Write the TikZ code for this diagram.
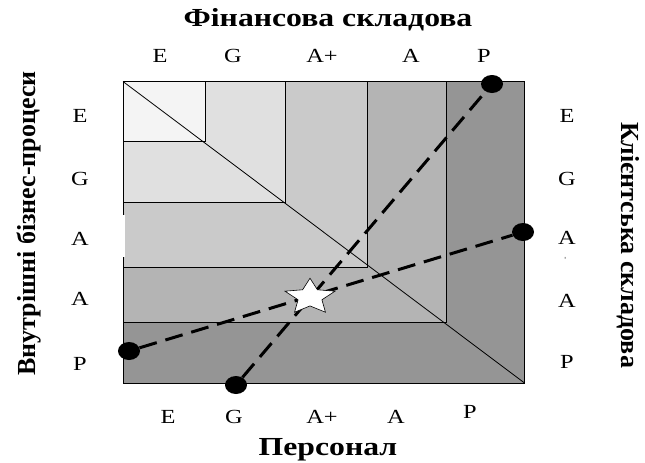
\documentclass[tikz,border=0pt]{standalone}
\usepackage{fontspec}
\setmainfont{Liberation Serif}
\usetikzlibrary{shapes.geometric}
\definecolor{gA}{HTML}{F4F4F4}
\definecolor{gB}{HTML}{E0E0E0}
\definecolor{gC}{HTML}{CACACA}
\definecolor{gD}{HTML}{B4B4B4}
\definecolor{gE}{HTML}{959595}
\begin{document}
\begin{tikzpicture}[x=1pt,y=-1pt,
  dot/.style={ellipse,fill=black,inner sep=0pt,minimum width=22pt,minimum height=18pt},
  dashline/.style={line width=3pt,dash pattern=on 18pt off 9pt},
  lbl/.style={font=\fontsize{20}{22}\selectfont,anchor=base,inner sep=0pt,xscale=1.22},
  ttl/.style={font=\fontsize{26}{28}\selectfont\bfseries,anchor=base,inner sep=0pt},
  zone/.style={draw=black,line width=0.8pt}]
\useasboundingbox (0,0) rectangle (645,463);
% zones
\filldraw[zone,fill=gE] (123,81.5) rectangle (524.5,383);
\filldraw[zone,fill=gD] (123,81.5) rectangle (446,322);
\filldraw[zone,fill=gC] (123,81.5) rectangle (367,267);
\filldraw[zone,fill=gB] (123,81.5) rectangle (285,202);
\filldraw[zone,fill=gA] (123,81.5) rectangle (205,141);
\draw[line width=0.8pt] (123,81.5) -- (524.5,383);
\fill[white] (121.5,215) rectangle (124.5,257);
% titles
\node[ttl,xscale=1.22] (tf) at (328,27) {Фінансова складова};
\node[ttl,xscale=1.22] (tp) at (328,455) {Персонал};
\node[ttl,rotate=90] (tv) at (35,223.5) {Внутрішні бізнес-процеси};
\node[ttl,rotate=-90] (tk) at (621,245) {Клієнтська складова};
% top letters
\node[lbl] (t1) at (160,62) {E};
\node[lbl] (t2) at (233,62) {G};
\node[lbl] (t3) at (322,62) {A+};
\node[lbl] (t4) at (411,62) {A};
\node[lbl] (t5) at (484,62) {P};
% bottom letters
\node[lbl] (b1) at (168,423) {E};
\node[lbl] (b2) at (234,423) {G};
\node[lbl] (b3) at (322,423) {A+};
\node[lbl] (b4) at (396,423) {A};
\node[lbl] (b5) at (470,418) {P};
% left letters
\node[lbl] (l1) at (80,122) {E};
\node[lbl] (l2) at (80,185) {G};
\node[lbl] (l3) at (80,245) {A};
\node[lbl] (l4) at (80,305) {A};
\node[lbl] (l5) at (80,370) {P};
% right letters
\node[lbl] (r1) at (567,122) {E};
\node[lbl] (r2) at (567,185) {G};
\node[lbl] (r3) at (567,244) {A};
\node[font=\fontsize{7}{7}\selectfont,rotate=90,inner sep=0pt] (r3b) at (566,258) {-};
\node[lbl] (r4) at (567,307) {A};
\node[lbl] (r5) at (567,368) {P};
% dots and lines
\node[dot] (dtop) at (492,84) {};
\node[dot] (dright) at (523,232) {};
\node[dot] (dleft) at (129,351) {};
\node[dot] (dbot) at (236,385) {};
\draw[dashline] (dbot) -- (dtop);
\draw[dashline] (dleft) -- (dright);
\node[star,star points=5,star point ratio=2.1,minimum size=37.6pt,inner sep=0pt,fill=white,draw=black,line width=0.6pt,xscale=1.4] (st) at (310,297) {};
\end{tikzpicture}
\end{document}
